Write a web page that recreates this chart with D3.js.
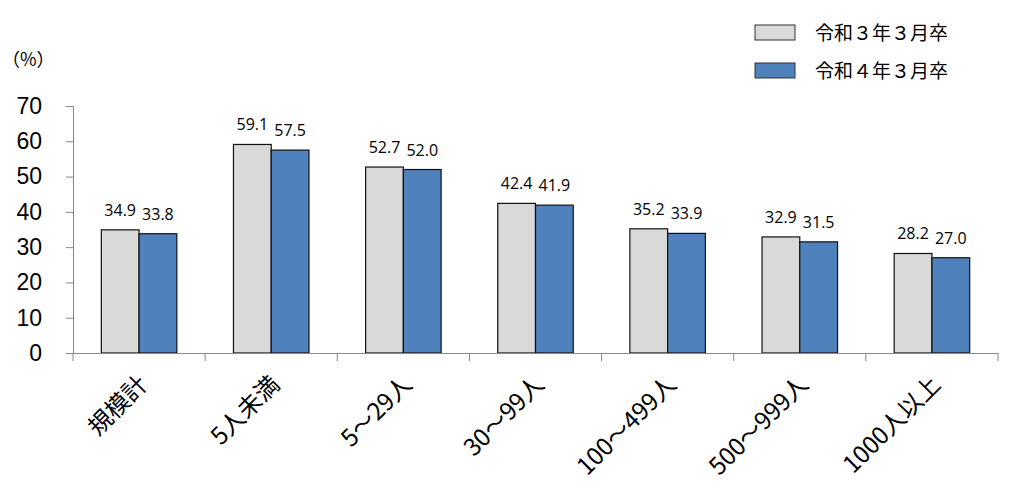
<!DOCTYPE html>
<html lang="ja">
<head>
<meta charset="UTF-8" />
<title>規模別</title>
<style>
  body { margin: 0; background: #fff; }
  svg text { font-family: "Noto Sans CJK JP", "Noto Sans", sans-serif; fill: #000; }
</style>
</head>
<body>
<div id="chart"></div>
<script src="https://cdn.jsdelivr.net/npm/d3@7/dist/d3.min.js"></script>
<script>
// data
var categories = ["規模計", "5人未満", "5～29人", "30～99人", "100～499人", "500～999人", "1000人以上"];
var seriesNames = ["令和３年３月卒", "令和４年３月卒"];
var r3Values = [34.9, 59.1, 52.7, 42.4, 35.2, 32.9, 28.2];
var r4Values = [33.8, 57.5, 52.0, 41.9, 33.9, 31.5, 27.0];
var yTicks = [0, 10, 20, 30, 40, 50, 60, 70];

var colors = ["#d9d9d9", "#4f81bd"];
var width = 1024, height = 503;
var margin = { top: 106, right: 26, bottom: 150, left: 73 };

var svg = d3.select("#chart").append("svg")
  .attr("width", width)
  .attr("height", height);

var xScale = d3.scaleBand()
  .domain(categories)
  .range([margin.left, width - margin.right]);

var inner = d3.scaleBand()
  .domain([0, 1])
  .range([0, xScale.bandwidth()])
  .paddingOuter(0.75)
  .paddingInner(0);

var yScale = d3.scaleLinear()
  .domain([0, 70])
  .range([height - margin.bottom, margin.top]);

// y axis
var yAxis = d3.axisLeft(yScale).tickValues(yTicks).tickSize(7).tickPadding(24);
var gy = svg.append("g")
  .attr("transform", "translate(" + margin.left + ",0)")
  .call(yAxis);
gy.selectAll("path, line").attr("stroke", "#888");
gy.selectAll("text").style("font-size", "23px").style("font-family", "'Liberation Sans', sans-serif");

svg.append("text")
  .attr("x", 2)
  .attr("y", 66)
  .style("font-size", "18px")
  .text("（%）");

// bars
var series = [r3Values, r4Values];
series.forEach(function(vals, s) {
  svg.selectAll(".bar" + s)
    .data(vals)
    .enter()
    .append("rect")
    .attr("class", "bar" + s)
    .attr("x", function(d, i) { return xScale(categories[i]) + inner(s); })
    .attr("y", function(d) { return yScale(d); })
    .attr("width", inner.bandwidth())
    .attr("height", function(d) { return yScale(0) - yScale(d); })
    .attr("fill", colors[s])
    .attr("stroke", "#111")
    .attr("stroke-width", 1.2);

  svg.selectAll(".lbl" + s)
    .data(vals)
    .enter()
    .append("text")
    .attr("class", "lbl" + s)
    .attr("text-anchor", "middle")
    .attr("x", function(d, i) { return xScale(categories[i]) + inner(s) + inner.bandwidth() / 2; })
    .attr("y", function(d) { return yScale(d) - 14; })
    .style("font-size", "16px")
    .style("font-family", "'Open Sans', sans-serif")
    .text(function(d) { return d.toFixed(1); });
});

// x axis
var xAxis = d3.axisBottom(xScale).tickSize(0).tickFormat("");
var gx = svg.append("g")
  .attr("transform", "translate(0," + yScale(0) + ")")
  .call(xAxis);
gx.select("path").attr("stroke", "#888");

// tick marks at band boundaries
var bounds = categories.map(function(c) { return xScale(c); }).concat([xScale.range()[1]]);
svg.selectAll(".xtick")
  .data(bounds)
  .enter()
  .append("line")
  .attr("x1", function(d) { return d; })
  .attr("x2", function(d) { return d; })
  .attr("y1", yScale(0))
  .attr("y2", yScale(0) + 8)
  .attr("stroke", "#888");

svg.selectAll(".xlabel")
  .data(categories)
  .enter()
  .append("text")
  .attr("class", "xlabel")
  .attr("text-anchor", "end")
  .attr("transform", function(d) {
    var cx = xScale(d) + xScale.bandwidth() / 2 + 10;
    return "translate(" + cx + "," + (yScale(0) + 33) + ") rotate(-45)";
  })
  .style("font-size", "24px")
  .text(function(d) { return d; });

// legend
var legend = svg.selectAll(".legend")
  .data(seriesNames)
  .enter()
  .append("g")
  .attr("transform", function(d, i) { return "translate(755," + (25 + i * 38) + ")"; });
legend.append("rect")
  .attr("width", 40)
  .attr("height", 15)
  .attr("fill", function(d, i) { return colors[i]; })
  .attr("stroke", "#333");
legend.append("text")
  .attr("x", 60)
  .attr("y", 15)
  .style("font-size", "19px")
  .text(function(d) { return d; });
</script>
</body>
</html>
